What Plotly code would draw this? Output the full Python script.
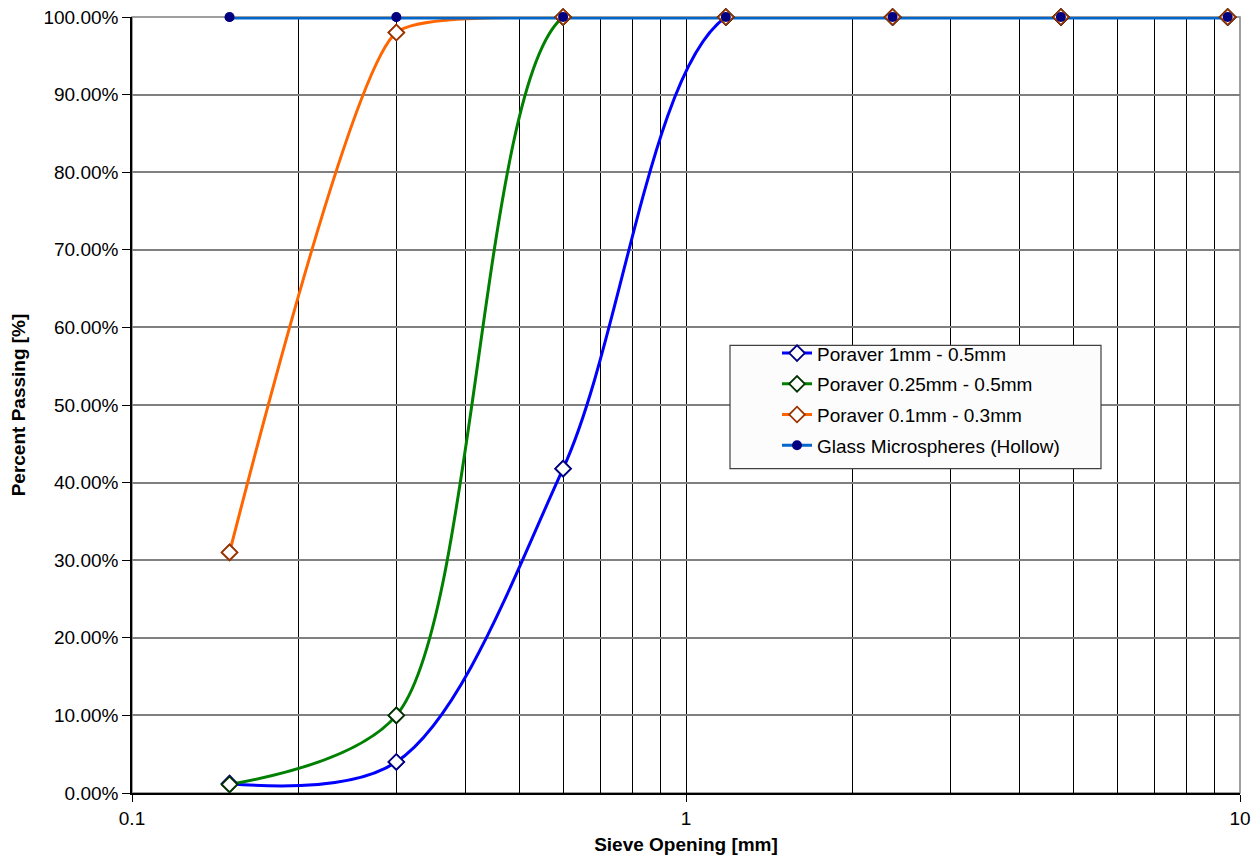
import plotly.graph_objects as go

sieve_mm = [0.15, 0.3, 0.6, 1.18, 2.36, 4.75, 9.5]
poraver_1_05 = [1.2, 4.0, 41.8, 100, 100, 100, 100]
poraver_025_05 = [1.1, 10.0, 100, 100, 100, 100, 100]
poraver_01_03 = [31.0, 98.0, 100, 100, 100, 100, 100]
glass_micro = [100, 100, 100, 100, 100, 100, 100]

series = [
    ("Poraver 1mm - 0.5mm", poraver_1_05, "#0000FF", False, "#000080", "white", 0.95),
    ("Poraver 0.25mm - 0.5mm", poraver_025_05, "#008000", False, "#003300", "white", 0.85),
    ("Poraver 0.1mm - 0.3mm", poraver_01_03, "#FF6600", False, "#993300", "white", 0.5),
    ("Glass Microspheres (Hollow)", glass_micro, "#0066CC", True, "#000080", "#000080", 1.0),
]


def marker_for(is_circle, mc, fc):
    return dict(symbol="circle" if is_circle else "diamond",
                size=10 if is_circle else 12, color=fc,
                line=dict(color=mc, width=0 if is_circle else 1.8))


fig = go.Figure()
for i, (name, vals, lc, is_circle, mc, fc, sm) in enumerate(series):
    fig.add_trace(go.Scatter(
        x=sieve_mm, y=vals, name=name, mode="lines+markers",
        legendgroup=f"g{i}",
        line=dict(color=lc, width=3, shape="spline", smoothing=sm),
        marker=marker_for(is_circle, mc, fc),
        cliponaxis=True, hoverinfo="x+y+name",
    ))
# thicker glass line so its visible part at the top edge matches
name, vals, lc, is_circle, mc, fc, sm = series[3]
fig.add_trace(go.Scatter(
    x=sieve_mm, y=vals, mode="lines", showlegend=False, hoverinfo="skip",
    line=dict(color=lc, width=5), cliponaxis=True,
))
for name, vals, lc, is_circle, mc, fc, sm in series:
    fig.add_trace(go.Scatter(
        x=sieve_mm, y=vals, mode="markers", showlegend=False, hoverinfo="skip",
        marker=marker_for(is_circle, mc, fc), cliponaxis=False,
    ))

minor_vals = [0.2, 0.3, 0.4, 0.5, 0.6, 0.7, 0.8, 0.9, 2, 3, 4, 5, 6, 7, 8, 9]

# page has an 8px body margin; plot area target: x 132..1240, y 17..785
PW, PH = 1108, 768
FS = 19
fig.update_layout(
    width=1252, height=851,
    margin=dict(l=124, r=20, t=9, b=66, autoexpand=False),
    paper_bgcolor="white", plot_bgcolor="white",
    font=dict(family="Liberation Sans, Arial, sans-serif", size=FS, color="black"),
    showlegend=True,
    legend=dict(x=(777 - 132) / PW, y=(785 - 331) / PH, xanchor="left", yanchor="top",
                bgcolor="rgba(0,0,0,0)", borderwidth=0,
                traceorder="grouped", tracegroupgap=3,
                font=dict(size=FS)),
    shapes=[
        dict(type="rect", xref="paper", yref="paper", x0=0, y0=0, x1=1, y1=1,
             line=dict(color="#808080", width=1.5), layer="below"),
        dict(type="rect", xref="paper", yref="paper",
             x0=(730 - 132) / PW, x1=(1101 - 132) / PW,
             y0=(785 - 464) / PH, y1=(785 - 342) / PH,
             fillcolor="#fcfcfc", line=dict(color="#404040", width=1.2), layer="above"),
    ],
)
fig.update_xaxes(
    type="log", range=[-1, 1], automargin=False, ticklabeloverflow="allow",
    tickvals=[0.1, 1, 10], ticktext=["0.1", "1", "10"],
    ticks="outside", ticklen=7, tickcolor="black",
    showgrid=True, gridcolor="black", gridwidth=1,
    minor=dict(tickvals=minor_vals, showgrid=True, gridcolor="black", gridwidth=1, ticklen=0),
    showline=True, linecolor="black", linewidth=1.5,
    title=dict(text="<b>Sieve Opening [mm]</b>", font=dict(size=FS), standoff=10),
    tickfont=dict(size=FS), zeroline=False,
)
fig.update_yaxes(
    range=[0, 100], dtick=10, tickformat=".2f", ticksuffix="%",
    automargin=False, ticklabeloverflow="allow",
    ticks="outside", ticklen=8, tickcolor="black",
    showgrid=True, gridcolor="#808080", gridwidth=1.5,
    showline=True, linecolor="black", linewidth=1.5,
    title=dict(text="<b>Percent Passing [%]</b>", font=dict(size=FS), standoff=24),
    tickfont=dict(size=FS), zeroline=False,
)

fig.write_html("out.html")
